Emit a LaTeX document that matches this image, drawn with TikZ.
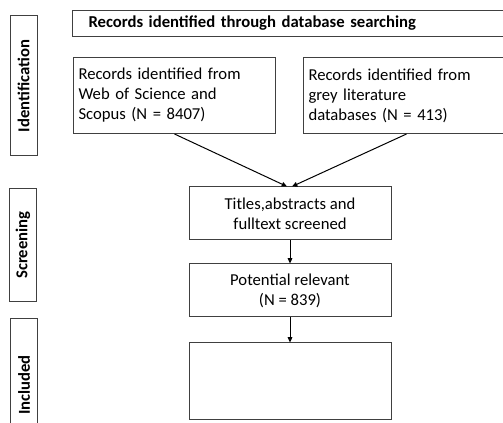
\documentclass[tikz,border=0pt]{standalone}
\usepackage{fontspec}
\setmainfont{Carlito}
\usetikzlibrary{positioning, arrows.meta}

\begin{document}
\begin{tikzpicture}[x=0.75pt, y=-0.75pt,
  box/.style={draw=black!75, line width=0.75pt, inner sep=0pt, font=\fontsize{12.5}{15}\selectfont},
  stage/.style={box, rotate=90, minimum height=20.25pt, font=\fontsize{12.5}{15}\selectfont\bfseries},
  flow/.style={-{Triangle[length=4pt,width=3.5pt]}, line width=0.75pt, black}]
  \useasboundingbox (0,0) rectangle (503,423);

  % stage labels on the left
  \node[stage, minimum width=105pt] (identification) at (23.5,86) {Identification};
  \node[stage, minimum width=84.75pt] (screening) at (23,245) {Screening};
  \node[stage, minimum width=99pt] (included) at (24,385) {Included};

  % identification
  \node[box, anchor=north west, inner xsep=12pt, text width=306pt, minimum height=19.5pt, align=left,
        font=\fontsize{12.5}{15}\selectfont\bfseries] (search) at (72,10) {Records identified through database searching};
  \node[box, anchor=north west, inner xsep=3.75pt, text width=144pt, minimum height=57pt, align=left] (wos) at (73,57)
       {Records identified from\\Web of Science and\\Scopus (N = 8407)};
  \node[box, anchor=north west, inner xsep=3.75pt, text width=147pt, minimum height=57pt, align=left] (grey) at (303,57)
       {Records identified from\\grey literature\\databases (N = 413)};

  % screening
  \node[box, minimum width=151.5pt, minimum height=39.75pt, align=center] (titles) at (290,213.5)
       {Titles,abstracts and\\fulltext screened};
  \node[box, minimum width=151.5pt, minimum height=39.75pt, align=center] (relevant) at (290,290.5)
       {Potential relevant\\(N = 839)};

  % included
  \node[box, minimum width=151.5pt, minimum height=57.75pt] (final) at (290,381.5) {};

  \draw[flow] (wos.south) -- ([xshift=-2.25pt]titles.north);
  \draw[flow] (grey.south) -- ([xshift=1.5pt]titles.north);
  \draw[flow] (titles) -- (relevant);
  \draw[flow] (relevant) -- (final);
\end{tikzpicture}
\end{document}
